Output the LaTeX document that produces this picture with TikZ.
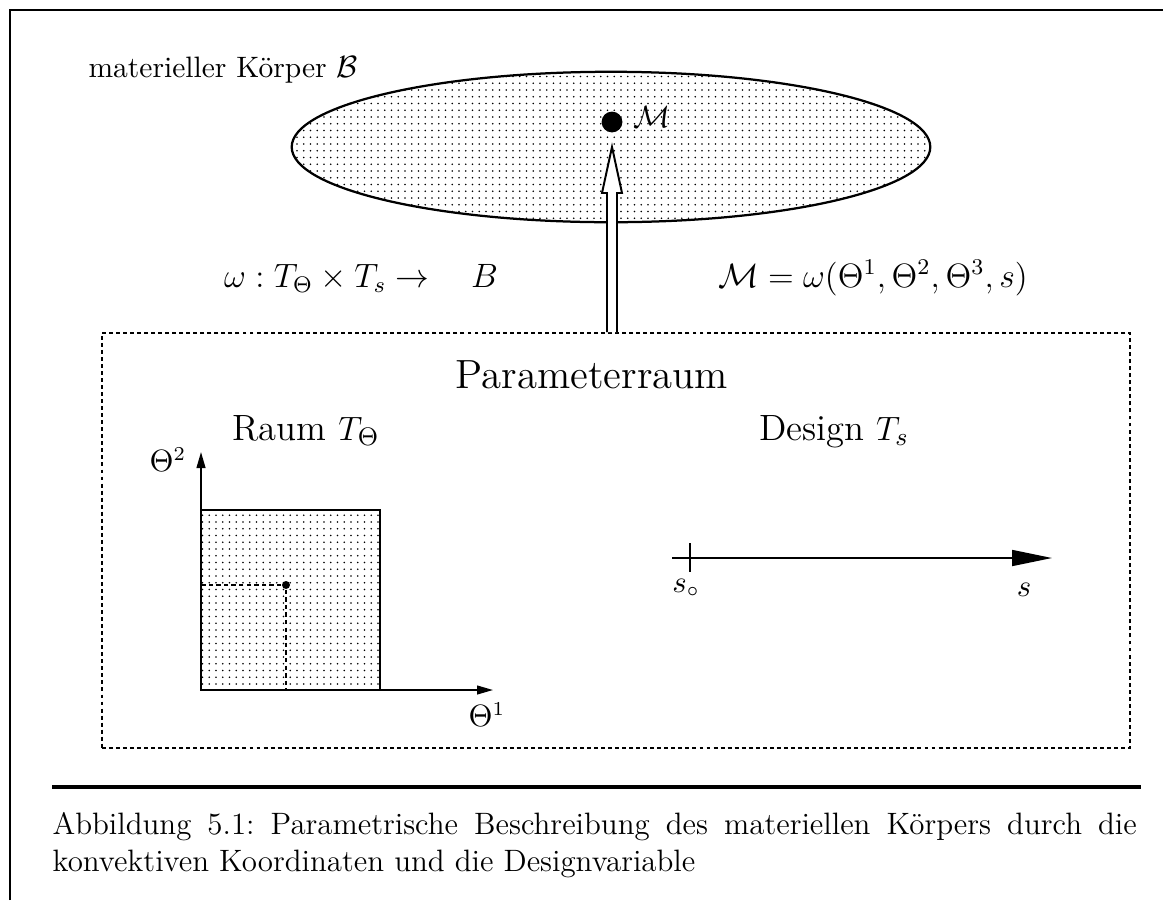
\documentclass[tikz,border=0pt]{standalone}
\usepackage{amsmath}
\usetikzlibrary{positioning,arrows.meta,calc,shapes.geometric,patterns}
\pgfdeclarepatternformonly{sparsedots}{\pgfqpoint{-1pt}{-1pt}}{\pgfqpoint{1pt}{1pt}}{\pgfqpoint{2.4pt}{2.4pt}}{\pgfpathcircle{\pgfpointorigin}{0.32pt}\pgfusepath{fill}}
\frenchspacing
\tikzset{
  lbl/.style={inner sep=0pt, font=\fontsize{10.5}{13}\selectfont},
  unterschrift/.style={inner sep=0pt, font=\fontsize{11}{13.2}\selectfont, text width=13.55cm, align=justify},
  formel/.style={inner sep=0pt, font=\fontsize{11.5}{14}\selectfont},
  titel/.style={inner sep=0pt, font=\fontsize{14.5}{17}\selectfont},
  untertitel/.style={inner sep=0pt, font=\fontsize{13}{15}\selectfont},
  koerperb/.style={draw, ellipse, line width=0.8pt, pattern=sparsedots, inner sep=0pt, minimum width=7.98cm, minimum height=1.88cm},
  rahmenb/.style={draw, line width=0.6pt, dash pattern=on 1.4pt off 1.1pt, inner sep=0pt, minimum width=12.85cm, minimum height=5.19cm},
  punkt/.style={circle, fill, inner sep=0pt, minimum size=#1},
  punkt/.default=2.6mm,
  achse/.style={line width=0.6pt, -{Triangle[length=2mm,width=1.1mm]}},
  sachse/.style={line width=0.6pt, -{Triangle[length=5mm,width=2mm]}},
  hohlpfeil/.style={draw, fill=white, line width=0.7pt, line join=miter},
  hilfslinie/.style={line width=0.7pt, dash pattern=on 1.6pt off 1.1pt},
}
\begin{document}
\begin{tikzpicture}[x=0.0125cm, y=-0.0125cm, node distance=1mm]
  \useasboundingbox (0,0) rectangle (1163,900);
  \draw[line width=0.9pt] (10,900) -- (10,10) -- (1163,10);
  \node[lbl, anchor=base west] (titelB) at (88,77) {materieller K\"orper $\mathcal{B}$};
  \node[koerperb] (koerper) at (611,147) {};
  \node[rahmenb] (parraum) at (616,540.5) {};
  \node[punkt] (mpunkt) at (612,122) {};
  \node[lbl, right=1.2mm of mpunkt, yshift=0.6mm] (mlab) {$\mathcal{M}$};
  \coordinate (pfeilfuss) at (parraum.north -| mpunkt);
  \coordinate (pfeilspitze) at ($(mpunkt)+(0,25)$);
  \draw[hohlpfeil] ($(pfeilfuss)+(-5,0)$) -- ($(pfeilspitze)+(-5,46)$) -- ($(pfeilspitze)+(-10,46)$) -- (pfeilspitze) -- ($(pfeilspitze)+(10,46)$) -- ($(pfeilspitze)+(5,46)$) -- ($(pfeilfuss)+(5,0)$);
  \node[formel, anchor=base] (abb) at (361,287) {$\omega : T_\Theta \times T_s \rightarrow \quad B$};
  \node[formel, anchor=base] (mgl) at (873,287) {$\mathcal{M} = \omega(\Theta^1, \Theta^2, \Theta^3, s)$};
  \node[titel, anchor=base] (ptitel) at (592,388) {Parameterraum};
  \node[untertitel, anchor=base] (raum) at (306,440) {Raum $T_\Theta$};
  \node[untertitel, anchor=base] (design) at (834,440) {Design $T_s$};
  \coordinate (ursprung) at (201,690);
  \draw[line width=0.8pt, pattern=sparsedots] (ursprung) rectangle (380,510);
  \draw[achse] (ursprung) -- (201,452) coordinate (th2ende);
  \draw[achse] (ursprung) -- (493,690) coordinate (th1ende);
  \node[punkt=1mm] (thpunkt) at (286,585) {};
  \draw[hilfslinie] (thpunkt) -- (thpunkt -| ursprung);
  \draw[hilfslinie] (thpunkt) -- (thpunkt |- ursprung);
  \node[lbl] (th2) at (168,460) {$\Theta^2$};
  \node[lbl] (th1) at (487,715) {$\Theta^1$};
  \coordinate (sanf) at (672,558);
  \draw[sachse] (sanf) -- (1052,558) coordinate (sende);
  \coordinate (snull) at (690,558);
  \draw[line width=0.6pt] ($(snull)+(0,-15)$) -- ($(snull)+(0,14)$);
  \node[lbl] (s0lab) at (686,588) {$s_\circ$};
  \node[lbl] (slab) at (1024,590) {$s$};
  \draw[line width=1.4pt] (52,787) -- (1141,787);
  \node[unterschrift, anchor=north west] (caption) at (52,812) {Abbildung 5.1: Parametrische Beschreibung des materiellen K\"orpers durch die\linebreak konvektiven Koordinaten und die Designvariable};
\end{tikzpicture}
\end{document}
